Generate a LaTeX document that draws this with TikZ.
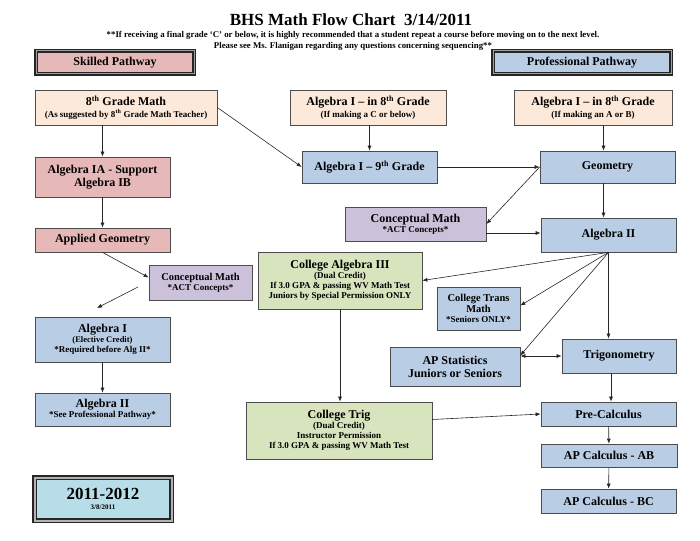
\documentclass[tikz,border=0pt]{standalone}
\usepackage{fontspec}
\setmainfont{Liberation Serif}
\usetikzlibrary{arrows.meta}
\usetikzlibrary{shadows}
\definecolor{skillpink}{HTML}{E6B9B8}
\definecolor{peach}{HTML}{FDE9D9}
\definecolor{profblue}{HTML}{B9CDE5}
\definecolor{conpurple}{HTML}{CCC1DA}
\definecolor{dualgreen}{HTML}{D7E4BD}
\definecolor{yearcyan}{HTML}{B7DEE8}
\newcommand{\boxtitle}{\fontsize{12}{13}\selectfont}
\newcommand{\boxnote}{\fontsize{9}{10.2}\selectfont}
\newcommand{\smalltitle}{\fontsize{10.5}{12}\selectfont}
\newcommand{\nth}[1]{#1\textsuperscript{th}}

\begin{document}
\begin{tikzpicture}[x=1pt, y=-1pt,
    box/.style={draw=black!70, line width=0.7pt, align=center, inner sep=1pt, font=\bfseries\boxnote},
    skill/.style={box, fill=skillpink},
    start/.style={box, fill=peach},
    prof/.style={box, fill=profblue},
    concept/.style={box, fill=conpurple},
    dual/.style={box, fill=dualgreen},
    pathbox/.style={box, draw=black!85, line width=1.2pt, double=gray!75, double distance=1pt, font=\bfseries\boxtitle},
    arr/.style={-{Latex[length=5pt,width=4pt]}, line width=0.6pt, black!85}]

    \useasboundingbox (0,0) rectangle (700,540);

    % heading
    \node[font=\bfseries\fontsize{17}{19}\selectfont] (title) at (351,20) {BHS Math Flow Chart\ \ 3/14/2011};
    \node[font=\bfseries\fontsize{8.8}{11}\selectfont, align=center] (warn) at (353,41)
        {**If receiving a final grade `C' or below, it is highly recommended that a student repeat a course before moving on to the next level.\\
         Please see Ms. Flanigan regarding any questions concerning sequencing**};

    \node[pathbox, fill=skillpink, minimum width=158, minimum height=23] (skilled) at (115,62.5) {Skilled Pathway};
    \node[pathbox, fill=profblue, minimum width=178, minimum height=23] (profpath) at (582,62.5) {Professional Pathway};

    % first row
    \node[start, minimum width=182, minimum height=35] (grade8) at (126,107.5)
        {{\boxtitle \nth{8} Grade Math}\\[1pt](As suggested by \nth{8} Grade Math Teacher)};
    \node[start, minimum width=156, minimum height=35] (alg8c) at (368,107.5)
        {{\boxtitle Algebra I -- in \nth{8} Grade}\\[1pt](If making a C or below)};
    \node[start, minimum width=158, minimum height=35] (alg8ab) at (593,107.5)
        {{\boxtitle Algebra I -- in \nth{8} Grade}\\[1pt](If making an A or B)};

    % skilled pathway
    \node[skill, font=\bfseries\boxtitle, minimum width=135, minimum height=40] (alg1a) at (102.5,177) {Algebra IA - Support\\Algebra IB};
    \node[skill, font=\bfseries\boxtitle, minimum width=135, minimum height=24] (appgeo) at (102.5,240) {Applied Geometry};
    \node[concept, minimum width=103, minimum height=35] (conleft) at (200.5,282.5) {{\smalltitle Conceptual Math}\\{*}ACT Concepts*};
    \node[prof, minimum width=135, minimum height=45] (alg1left) at (102.5,339.5)
        {{\boxtitle Algebra I}\\{\fontsize{8.5}{9}\selectfont (Elective Credit)}\\{*}Required before Alg II*};
    \node[prof, minimum width=135, minimum height=33] (alg2left) at (102.5,409.5)
        {{\boxtitle Algebra II}\\{*}See Professional Pathway*};
    \node[box, fill=yearcyan, draw=black!85, line width=1.1pt, double=gray!60, double distance=2pt,
          drop shadow={shadow xshift=1.5pt, shadow yshift=-1.5pt, fill=gray!45},
          minimum width=137, minimum height=43] (year) at (103,499)
        {{\fontsize{17}{18}\selectfont 2011-2012}\\{\fontsize{7}{8}\selectfont 3/8/2011}};

    % professional pathway
    \node[prof, font=\bfseries\boxtitle, minimum width=135, minimum height=32] (alg9) at (369.5,167) {Algebra I -- \nth{9} Grade};
    \node[prof, font=\bfseries\boxtitle, minimum width=135, minimum height=32] (geo) at (607.5,167) {Geometry};
    \node[concept, minimum width=141, minimum height=34] (conmid) at (415.5,224) {{\boxtitle Conceptual Math}\\{*}ACT Concepts*};
    \node[prof, font=\bfseries\boxtitle, minimum width=135, minimum height=34] (alg2) at (608.5,235) {Algebra II};
    \node[dual, minimum width=164, minimum height=57] (colalg) at (340,280.5)
        {{\boxtitle College Algebra III}\\(Dual Credit)\\If 3.0 GPA \& passing WV Math Test\\Juniors by Special Permission ONLY};
    \node[prof, minimum width=83, minimum height=43] (trans) at (478.5,308.5)
        {{\smalltitle College Trans}\\{\smalltitle Math}\\{*}Seniors ONLY*};
    \node[prof, font=\bfseries\boxtitle, minimum width=130, minimum height=39] (apstat) at (455,366.5) {AP Statistics\\Juniors or Seniors};
    \node[prof, font=\bfseries\boxtitle, minimum width=114, minimum height=34] (trig) at (619,356) {Trigonometry};
    \node[dual, minimum width=186, minimum height=57] (coltrig) at (339,430.5)
        {{\boxtitle College Trig}\\(Dual Credit)\\Instructor Permission\\If 3.0 GPA \& passing WV Math Test};
    \node[prof, font=\bfseries\boxtitle, minimum width=135, minimum height=24] (precalc) at (608.5,414) {Pre-Calculus};
    \node[prof, font=\bfseries\boxtitle, minimum width=136, minimum height=23] (calcab) at (609,455.5) {AP Calculus - AB};
    \node[prof, font=\bfseries\boxtitle, minimum width=135, minimum height=24] (calcbc) at (608.5,501) {AP Calculus - BC};

    \coordinate (loosetail) at (138,287);
    \coordinate (loosehead) at (97,308);

    % connectors
    \draw[arr] (alg1a.north |- grade8.south) -- (alg1a.north);
    \draw[arr] (grade8.east) -- (alg9.west);
    \draw[arr] (alg1a) -- (appgeo);
    \draw[arr] (appgeo.south) -- ([yshift=5pt]conleft.west);
    \draw[arr] (loosetail) -- (loosehead);
    \draw[arr] (alg1left) -- (alg2left);

    \draw[arr] (alg9.north |- alg8c.south) -- (alg9.north);
    \draw[arr] ([xshift=-4pt]geo.north |- alg8ab.south) -- ([xshift=-4pt]geo.north);
    \draw[arr] (alg9.east) -- (geo.west);
    \draw[arr] (geo.west) -- (conmid.east);
    \draw[arr] ([yshift=-9pt]conmid.east) -- ([yshift=-9pt]conmid.east -| alg2.west);
    \draw[arr] ([xshift=-4pt]geo.south) -- ([xshift=-4pt]geo.south |- alg2.north);
    \draw[arr] (alg2.south) -- (colalg.east);
    \draw[arr] (alg2.south) -- ([yshift=3pt]trans.east);
    \draw[arr] (alg2.south) -- ([yshift=11pt]apstat.east);
    \draw[arr] (alg2.south) -- (alg2.south |- trig.north);
    \draw[{Latex[length=5pt,width=4pt]}-{Latex[length=5pt,width=4pt]}, line width=0.6pt, black!85] (trig.west -| apstat.east) -- (trig.west);
    \draw[arr] (colalg.south) -- (colalg.south |- coltrig.north);
    \draw[arr] ([yshift=11pt]coltrig.east) -- (precalc.west);
    \draw[arr] ([xshift=-8pt]trig.south) -- ([xshift=-8pt]trig.south |- precalc.north);
    \draw[arr] (precalc) -- (calcab);
    \draw[arr] (calcab) -- (calcbc);

\end{tikzpicture}
\end{document}
